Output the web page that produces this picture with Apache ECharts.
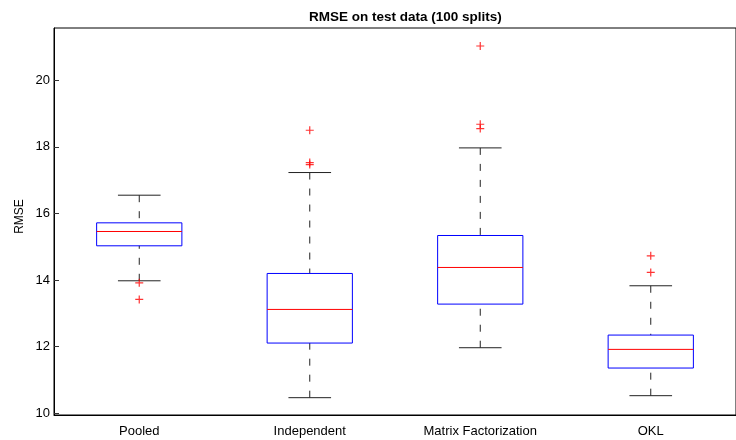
<!DOCTYPE html>
<html>
<head>
<meta charset="utf-8">
<script src="https://cdn.jsdelivr.net/npm/echarts@6/dist/echarts.min.js"></script>
<style>
  html, body { margin: 0; padding: 0; background: #fff; }
  #main { width: 736px; height: 440px; }
</style>
</head>
<body>
<div id="main"></div>
<script>
const categories = ['Pooled', 'Independent', 'Matrix Factorization', 'OKL'];
const lowerWhisker = [13.98, 10.47, 11.97, 10.53];
const q1 = [15.03, 12.11, 13.28, 11.36];
const medians = [15.46, 13.12, 14.38, 11.92];
const q3 = [15.72, 14.20, 15.34, 12.35];
const upperWhisker = [16.55, 17.23, 17.97, 13.83];
// outliers per category index
const outlierIdx = [0, 0, 1, 1, 1, 2, 2, 2, 3, 3];
const outlierVal = [13.92, 13.42, 18.50, 17.47, 17.53, 21.03, 18.68, 18.55, 14.73, 14.23];
const yTicks = [10, 12, 14, 16, 18, 20];

const font = 'Liberation Sans, Arial, Helvetica, sans-serif';

const boxData = categories.map((c, i) =>
  [i, lowerWhisker[i], q1[i], medians[i], q3[i], upperWhisker[i]]);
const outlierData = outlierIdx.map((c, k) => [c, outlierVal[k]]);

function renderBox(params, api) {
  const i = api.value(0);
  const lo = api.coord([i, api.value(1)]);
  const b1 = api.coord([i, api.value(2)]);
  const md = api.coord([i, api.value(3)]);
  const b3 = api.coord([i, api.value(4)]);
  const hi = api.coord([i, api.value(5)]);
  const bw = api.size([1, 0])[0] * 0.5;
  const cw = bw / 4;
  const x = lo[0];
  const dash = { stroke: '#222', lineWidth: 1, lineDash: [7, 9] };
  const solid = { stroke: '#222', lineWidth: 1 };
  return {
    type: 'group',
    children: [
      { type: 'line', shape: { x1: x, y1: hi[1], x2: x, y2: b3[1] }, style: dash },
      { type: 'line', shape: { x1: x, y1: lo[1], x2: x, y2: b1[1] }, style: dash },
      { type: 'line', shape: { x1: x - cw, y1: hi[1], x2: x + cw, y2: hi[1] }, style: solid },
      { type: 'line', shape: { x1: x - cw, y1: lo[1], x2: x + cw, y2: lo[1] }, style: solid },
      { type: 'rect', shape: { x: x - bw / 2, y: b3[1], width: bw, height: b1[1] - b3[1] },
        style: { fill: 'none', stroke: '#0000ff', lineWidth: 1 } },
      { type: 'line', shape: { x1: x - bw / 2, y1: md[1], x2: x + bw / 2, y2: md[1] },
        style: { stroke: '#ff0000', lineWidth: 1 } }
    ]
  };
}

const chart = echarts.init(document.getElementById('main'), null, { renderer: 'canvas' });

const option = {
  backgroundColor: '#ffffff',
  animation: false,
  title: {
    text: 'RMSE on test data (100 splits)',
    left: 304,
    top: 5,
    textStyle: { fontFamily: font, fontSize: 13.5, fontWeight: 'bold', color: '#000' }
  },
  grid: {
    left: 54, top: 28, width: 693, height: 387,
    show: true, borderColor: '#000', borderWidth: 1
  },
  xAxis: {
    type: 'category',
    data: categories,
    axisLine: { lineStyle: { color: '#000', width: 1 } },
    axisTick: { show: false },
    axisLabel: { fontFamily: font, fontSize: 13, color: '#000', margin: 10 },
    splitLine: { show: false }
  },
  yAxis: {
    type: 'value',
    min: 9.95,
    max: 21.57,
    name: 'RMSE',
    nameLocation: 'middle',
    nameRotate: 90,
    nameGap: 28,
    nameMoveOverlap: false,
    nameTextStyle: { fontFamily: font, fontSize: 12, color: '#000', padding: [0, 0, 0, 10] },
    axisLine: { show: true, lineStyle: { color: '#000', width: 1 } },
    axisTick: { show: true, inside: true, length: 5, customValues: yTicks, lineStyle: { color: '#333' } },
    axisLabel: { customValues: yTicks, fontFamily: font, fontSize: 13, color: '#000', margin: 4 },
    splitLine: { show: false }
  },
  series: [
    {
      type: 'custom',
      renderItem: renderBox,
      data: boxData,
      encode: { x: 0, y: [1, 2, 3, 4, 5] },
      z: 2
    },
    {
      type: 'scatter',
      data: outlierData,
      symbol: 'path://M0,4L8,4M4,0L4,8',
      symbolSize: 8,
      itemStyle: { color: 'none', borderColor: '#ff0000', borderWidth: 1.2 },
      z: 3
    }
  ]
};

chart.setOption(option);
</script>
</body>
</html>
